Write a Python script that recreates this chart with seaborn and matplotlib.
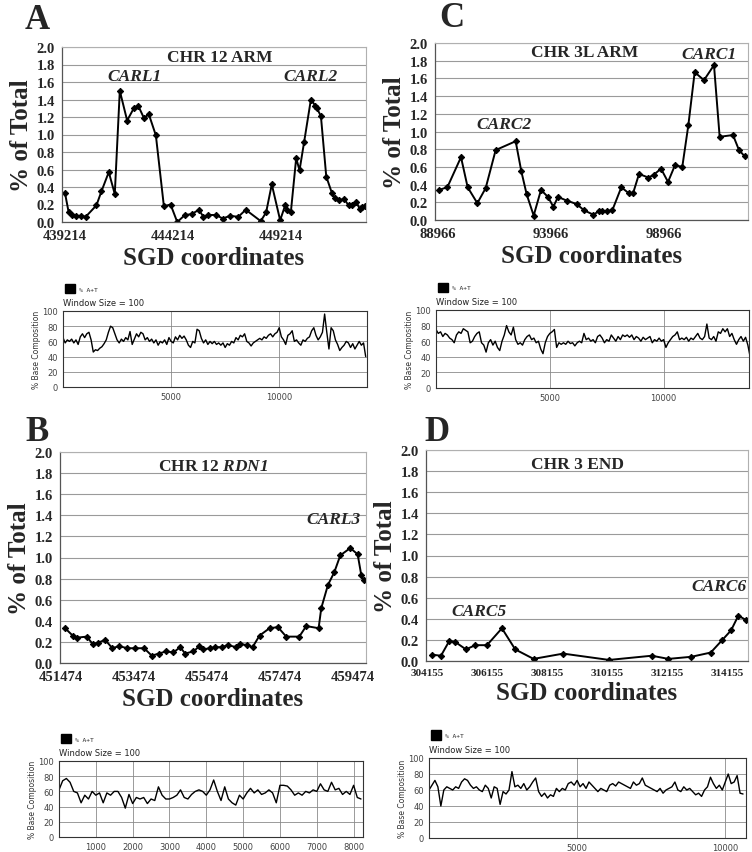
import numpy as np
import matplotlib
matplotlib.use("Agg")
import matplotlib.pyplot as plt
from matplotlib.patches import Patch
import seaborn as sns

# ---- panel A: CHR 12 ARM ----
a_pos = [439214, 439384, 439554, 439709, 439940, 440172, 440667, 440899, 441239, 441517,
         441749, 442089, 442398, 442599, 442862, 443094, 443418, 443789, 444098, 444407,
         444763, 445072, 445412, 445613, 445845, 446200, 446509, 446849, 447236, 447576,
         448271, 448519, 448781, 449168, 449400, 449508, 449662, 449910, 450064, 450281,
         450590, 450791, 450868, 451054, 451301, 451564, 451718, 451873, 452135, 452336,
         452491, 452692, 452846, 452954, 453109]
a_pct = [0.33, 0.11, 0.08, 0.07, 0.07, 0.06, 0.19, 0.35, 0.57, 0.32,
         1.50, 1.16, 1.30, 1.33, 1.19, 1.23, 0.99, 0.18, 0.20, 0.00,
         0.08, 0.09, 0.14, 0.06, 0.08, 0.08, 0.04, 0.07, 0.06, 0.14,
         0.01, 0.11, 0.43, 0.02, 0.19, 0.14, 0.11, 0.73, 0.59, 0.92,
         1.40, 1.33, 1.30, 1.21, 0.52, 0.33, 0.27, 0.25, 0.26, 0.19,
         0.20, 0.23, 0.15, 0.17, 0.18]
a_ticks = [439214, 444214, 449214]

# ---- panel C: CHR 3L ARM ----
c_pos = [89010, 89380, 89985, 90280, 90709, 91078, 91521, 92407, 92658, 92895,
         93205, 93530, 93840, 94076, 94283, 94667, 95110, 95435, 95849, 96100,
         96248, 96440, 96690, 97090, 97430, 97607, 97873, 98286, 98522, 98847,
         99158, 99468, 99790, 100058, 100339, 100752, 101195, 101446, 102037, 102303,
         102554]
c_pct = [0.34, 0.37, 0.71, 0.37, 0.19, 0.36, 0.79, 0.89, 0.55, 0.29,
         0.05, 0.34, 0.26, 0.15, 0.26, 0.22, 0.18, 0.11, 0.06, 0.10,
         0.10, 0.10, 0.11, 0.37, 0.30, 0.30, 0.52, 0.48, 0.51, 0.58,
         0.43, 0.62, 0.60, 1.07, 1.67, 1.58, 1.75, 0.94, 0.96, 0.79,
         0.72]
c_ticks = [88966, 93966, 98966]

# ---- panel B: CHR 12 RDN1 ----
b_pos = [451575, 451785, 451895, 452170, 452334, 452472, 452673, 452874, 453057, 453286,
         453497, 453744, 453954, 454156, 454348, 454549, 454732, 454870, 455099, 455263,
         455373, 455556, 455693, 455876, 456041, 456270, 456362, 456563, 456719, 456911,
         457186, 457414, 457643, 458000, 458192, 458531, 458604, 458787, 458961, 459126,
         459400, 459602, 459703, 459767]
b_pct = [0.33, 0.26, 0.24, 0.25, 0.18, 0.19, 0.22, 0.14, 0.16, 0.14,
         0.14, 0.14, 0.07, 0.09, 0.11, 0.10, 0.15, 0.09, 0.11, 0.16,
         0.13, 0.14, 0.15, 0.15, 0.17, 0.15, 0.18, 0.17, 0.15, 0.26,
         0.33, 0.34, 0.25, 0.25, 0.35, 0.33, 0.52, 0.74, 0.86, 1.02,
         1.09, 1.03, 0.83, 0.79]
b_ticks = [451474, 453474, 455474, 457474, 459474]

# ---- panel D: CHR 3 END ----
d_pos = [304322, 304622, 304899, 305099, 305455, 305766, 306155, 306655, 307099, 307710,
         308699, 310232, 311654, 312210, 312977, 313621, 314010, 314299, 314543, 314788]
d_pct = [0.06, 0.05, 0.19, 0.18, 0.11, 0.15, 0.15, 0.31, 0.11, 0.02,
         0.07, 0.01, 0.05, 0.02, 0.04, 0.08, 0.20, 0.29, 0.43, 0.39]
d_ticks = [304155, 306155, 308155, 310155, 312155, 314155]

# ---- % A+T traces (window 100), one value every 100 bp ----
at_a = [65, 58, 62, 60, 63, 58, 62, 56, 66, 70, 65, 70, 72, 62, 46, 49, 48, 51, 53, 57,
        62, 72, 80, 78, 70, 62, 58, 63, 60, 65, 62, 73, 56, 63, 70, 66, 72, 70, 62, 65,
        60, 63, 58, 62, 55, 60, 58, 62, 56, 65, 60, 58, 66, 62, 68, 64, 67, 62, 55, 52,
        60, 58, 76, 74, 64, 58, 62, 56, 60, 57, 60, 56, 58, 55, 58, 52, 57, 55, 60, 58,
        65, 62, 68, 66, 70, 60, 58, 54, 58, 60, 62, 64, 62, 66, 64, 68, 70, 66, 70, 72,
        78, 66, 62, 56, 68, 70, 74, 60, 62, 58, 55, 62, 60, 64, 66, 74, 78, 68, 62, 66,
        72, 96, 72, 50, 78, 74, 62, 56, 48, 52, 55, 60, 58, 52, 57, 50, 55, 60, 55, 58,
        40]
at_c = [75, 70, 72, 66, 70, 68, 64, 62, 58, 68, 72, 70, 76, 74, 72, 58, 60, 66, 70, 72,
        58, 55, 46, 58, 62, 55, 60, 52, 48, 60, 68, 80, 72, 68, 78, 62, 56, 58, 55, 62,
        66, 68, 62, 64, 58, 60, 50, 44, 58, 66, 70, 72, 75, 52, 58, 56, 58, 56, 60, 57,
        58, 54, 58, 60, 58, 70, 62, 64, 60, 62, 58, 66, 68, 64, 58, 62, 60, 68, 64, 60,
        66, 62, 68, 66, 68, 65, 68, 62, 66, 64, 60, 65, 62, 64, 66, 58, 62, 60, 64, 60,
        62, 52, 58, 62, 66, 68, 72, 62, 64, 62, 65, 60, 64, 62, 66, 70, 64, 62, 66, 82,
        64, 62, 66, 60, 72, 70, 76, 72, 76, 66, 70, 62, 56, 62, 66, 60, 65, 55, 40]
at_b = [62, 74, 77, 72, 60, 58, 45, 55, 50, 60, 55, 58, 45, 58, 55, 60, 60, 52, 38, 56,
        44, 52, 50, 52, 44, 50, 48, 66, 55, 50, 50, 52, 55, 62, 52, 50, 56, 60, 62, 60,
        55, 62, 75, 60, 48, 66, 50, 45, 42, 55, 50, 58, 64, 58, 62, 56, 58, 62, 58, 45,
        68, 68, 67, 62, 55, 58, 55, 60, 58, 62, 60, 70, 62, 60, 72, 62, 64, 56, 60, 56,
        68, 52, 50]
at_d = [60, 66, 72, 64, 40, 60, 64, 62, 60, 64, 62, 70, 74, 72, 66, 62, 64, 60, 58, 66,
        62, 50, 64, 62, 42, 58, 55, 60, 83, 64, 66, 62, 68, 60, 64, 70, 75, 58, 52, 56,
        50, 54, 52, 62, 58, 62, 60, 68, 70, 66, 72, 64, 68, 62, 70, 66, 62, 58, 62, 60,
        58, 66, 68, 65, 70, 68, 66, 64, 62, 70, 66, 68, 75, 66, 64, 62, 60, 58, 62, 56,
        60, 62, 64, 70, 60, 58, 64, 60, 62, 58, 54, 56, 52, 60, 64, 76, 68, 62, 66, 60,
        70, 80, 68, 70, 78, 56, 55]

sns.set_style("white")
plt.rcParams['font.family'] = ['Liberation Serif', 'DejaVu Serif']
plt.rcParams['mathtext.fontset'] = 'custom'
plt.rcParams['mathtext.rm'] = 'Liberation Serif'
plt.rcParams['mathtext.bf'] = 'Liberation Serif:bold'
plt.rcParams['mathtext.it'] = 'Liberation Serif:italic'
plt.rcParams['mathtext.bfit'] = 'Liberation Serif:italic:bold'

W, H = 752, 853
fig = plt.figure(figsize=(W / 100, H / 100), dpi=100)


def rect(l, t, r, b):
    return [l / W, 1 - b / H, (r - l) / W, (b - t) / H]


def main_panel(box, pos, pct, ticks, xlim, tick_fs=10.5):
    ax = fig.add_axes(rect(*box))
    sns.lineplot(x=pos, y=pct, ax=ax, color='black', linewidth=1.4,
                 marker='D', markersize=3.2, markeredgecolor='black')
    ax.set_xlim(*xlim)
    ax.set_ylim(0, 2.0)
    ax.set_yticks(np.arange(0, 2.01, 0.2))
    ax.set_yticklabels(['%.1f' % v for v in np.arange(0, 2.01, 0.2)],
                       fontsize=10.5, fontweight='bold')
    ax.set_xticks(ticks)
    ax.set_xticklabels([str(t) for t in ticks], fontsize=tick_fs, fontweight='bold')
    ax.grid(axis='y', color='#9a9a9a', linewidth=0.8)
    for s in ['top', 'right']:
        ax.spines[s].set_color('#b0b0b0')
        ax.spines[s].set_linewidth(0.8)
    for s in ['left', 'bottom']:
        ax.spines[s].set_color('#555555')
        ax.spines[s].set_linewidth(0.9)
    ax.tick_params(axis='y', length=3, width=0.8, pad=2)
    ax.tick_params(axis='x', length=2, width=0.8, pad=3)
    ax.set_ylabel('% of Total', fontsize=18, fontweight='bold', labelpad=3)
    ax.set_xlabel('SGD coordinates', fontsize=18, fontweight='bold', labelpad=3)
    return ax


def trace_panel(box, vals, xlim, xticks):
    ax = fig.add_axes(rect(*box))
    pos = np.arange(len(vals)) * 100
    sns.lineplot(x=pos, y=vals, ax=ax, color='black', linewidth=1.0)
    ax.set_xlim(*xlim)
    ax.set_ylim(0, 100)
    ax.set_yticks(range(0, 101, 20))
    ax.set_xticks(xticks)
    ax.grid(True, color='#8a8a8a', linewidth=0.6)
    for s in ax.spines.values():
        s.set_color('#333333')
        s.set_linewidth(0.8)
    ax.tick_params(labelsize=6, labelcolor='#444444', length=2, pad=1.5)
    for lab in ax.get_xticklabels() + ax.get_yticklabels():
        lab.set_family(['DejaVu Sans'])
    ax.set_ylabel('% Base Composition', fontsize=5.5, family=['DejaVu Sans'],
                  color='#333333', labelpad=1)
    ax.text(0.0, 1.05, 'Window Size = 100', transform=ax.transAxes,
            fontsize=6, family=['DejaVu Sans'], color='#222222', va='bottom')
    ax.legend(handles=[Patch(facecolor='black', edgecolor='black')], labels=['% A+T'],
              loc='lower left', bbox_to_anchor=(-0.012, 1.16), frameon=False,
              handlelength=1.6, handleheight=1.9, handletextpad=0.6,
              prop={'family': ['DejaVu Sans Mono'], 'size': 4.5})
    return ax


# main panels
ax_a = main_panel((62, 48, 366, 223), a_pos, a_pct, a_ticks, (439075, 453140))
ax_c = main_panel((435, 44, 748, 221), c_pos, c_pct, c_ticks, (88833, 102702))
ax_b = main_panel((60, 453, 366, 664), b_pos, b_pct, b_ticks, (451437, 459831))
ax_d = main_panel((426, 451, 748, 662), d_pos, d_pct, d_ticks, (304122, 314865), tick_fs=8)

title_kw = dict(ha='center', va='center', fontsize=12.5, fontweight='bold')
peak_kw = dict(ha='center', va='center', fontsize=12.5, fontweight='bold', style='italic')

# in-plot titles and peak names
ax_a.text(0.52, 0.943, 'CHR 12 ARM', transform=ax_a.transAxes, **title_kw)
ax_a.text(0.24, 0.834, 'CARL1', transform=ax_a.transAxes, **peak_kw)
ax_a.text(0.816, 0.834, 'CARL2', transform=ax_a.transAxes, **peak_kw)

ax_c.text(0.479, 0.949, 'CHR 3L ARM', transform=ax_c.transAxes, **title_kw)
ax_c.text(0.875, 0.938, 'CARC1', transform=ax_c.transAxes, **peak_kw)
ax_c.text(0.22, 0.542, 'CARC2', transform=ax_c.transAxes, **peak_kw)

ax_b.text(0.5, 0.934, 'CHR 12 $\\mathbfit{RDN1}$', transform=ax_b.transAxes, **title_kw)
ax_b.text(0.895, 0.682, 'CARL3', transform=ax_b.transAxes, **peak_kw)

ax_d.text(0.472, 0.934, 'CHR 3 END', transform=ax_d.transAxes, **title_kw)
ax_d.text(0.91, 0.355, 'CARC6', transform=ax_d.transAxes, **peak_kw)
ax_d.text(0.165, 0.237, 'CARC5', transform=ax_d.transAxes, **peak_kw)

# base composition panels
trace_panel((63, 312, 367, 388), at_a, (0, 14060), [5000, 10000])
trace_panel((436, 311, 749, 389), at_c, (0, 13750), [5000, 10000])
trace_panel((59, 762, 363, 838), at_b, (0, 8255), list(range(1000, 8001, 1000)))
trace_panel((429, 759, 746, 839), at_d, (0, 10700), [5000, 10000])

# panel letters
for letter, x, y in [('A', 25, 29), ('C', 439, 27), ('B', 25, 441), ('D', 424, 441)]:
    fig.text(x / W, 1 - y / H, letter, fontsize=25, fontweight='bold',
             ha='left', va='baseline')

plt.savefig('out.png', dpi=100)
